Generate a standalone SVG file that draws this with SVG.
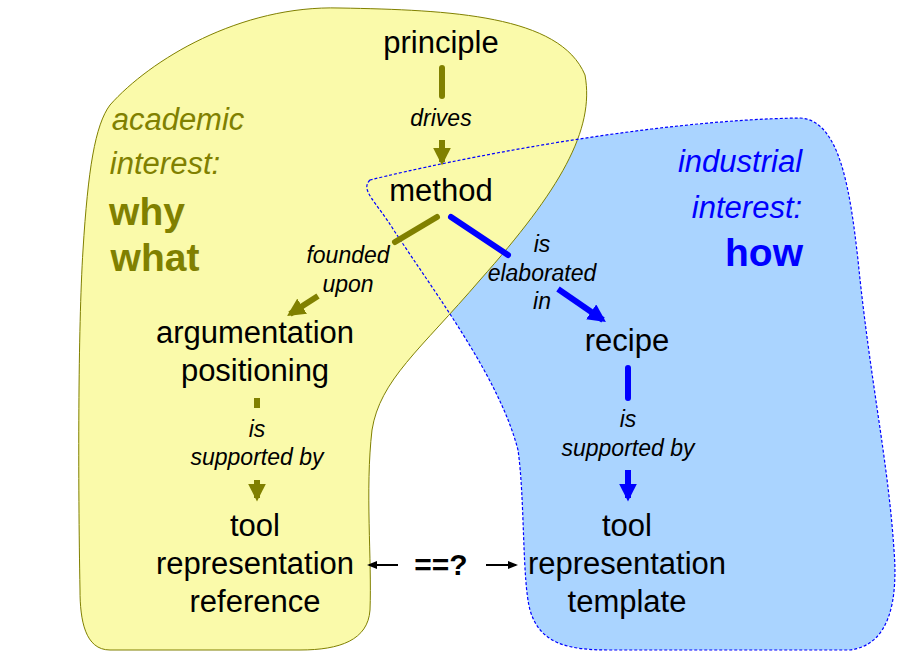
<svg xmlns="http://www.w3.org/2000/svg" width="920" height="660" viewBox="0 0 920 660">
<defs>
<style>
text{font-family:"Liberation Sans",Arial,sans-serif;text-anchor:middle}
.n{font-size:31px;fill:#000}
.l{font-size:23px;font-style:italic;fill:#000}
.o{stroke:#808000;stroke-width:6;fill:none}
.b{stroke:#0000ff;stroke-width:6;fill:none}
</style>
<marker id="mo" viewBox="0 0 10 10" refX="8" refY="5" markerWidth="3" markerHeight="3" orient="auto"><path d="M0,0L10,5L0,10z" fill="#808000"/></marker>
<marker id="mb" viewBox="0 0 10 10" refX="8" refY="5" markerWidth="3" markerHeight="3" orient="auto"><path d="M0,0L10,5L0,10z" fill="#0000ff"/></marker>
<marker id="mk" viewBox="0 0 10 10" refX="8" refY="5" markerWidth="5" markerHeight="5" orient="auto"><path d="M0,1L10,5L0,9z" fill="#000"/></marker>
</defs>
<g id="areas">
<path id="blue-fill" d="M370,180 C360,190 375,200 395,232 C440,300 500,380 518,450 C525,500 522,580 530,610 C540,645 570,650 610,650 L850,650 C890,645 898,600 894,550 C888,460 870,380 858,260 C850,190 840,120 800,118 C650,120 450,160 370,180 Z" fill="#aad4ff"/>
<path id="yellow" d="M110,105 C150,60 240,5 340,8 C450,10 560,15 585,75 C595,130 560,190 480,280 C420,350 380,380 372,430 C365,490 372,560 370,610 C368,640 340,650 300,650 L110,650 C85,650 80,620 80,590 C78,480 78,330 83,250 C88,170 95,125 110,105 Z" fill="#fafaaa" stroke="#808000" stroke-width="1"/>
<path id="blue-outline" d="M370,180 C360,190 375,200 395,232 C440,300 500,380 518,450 C525,500 522,580 530,610 C540,645 570,650 610,650 L850,650 C890,645 898,600 894,550 C888,460 870,380 858,260 C850,190 840,120 800,118 C650,120 450,160 370,180 Z" fill="none" stroke="#0000ff" stroke-width="1.2" stroke-dasharray="3,2"/>
</g>
<g id="labels-areas">
<text x="178" y="130" font-size="31" font-style="italic" fill="#808000">academic</text>
<text x="165" y="174" font-size="31" font-style="italic" fill="#808000">interest:</text>
<text x="147" y="225" font-size="39" font-weight="bold" fill="#808000">why</text>
<text x="155" y="271" font-size="39" font-weight="bold" fill="#808000">what</text>
<text x="740" y="172" font-size="31" font-style="italic" fill="#0000ff">industrial</text>
<text x="747" y="218" font-size="31" font-style="italic" fill="#0000ff">interest:</text>
<text x="764" y="266" font-size="39" font-weight="bold" fill="#0000ff">how</text>
</g>
<g id="principle"><text class="n" x="441" y="53">principle</text></g>
<g id="method"><text class="n" x="441" y="201">method</text></g>
<g id="argumentation"><text class="n" x="255" y="343">argumentation</text><text class="n" x="255" y="381">positioning</text></g>
<g id="recipe"><text class="n" x="627" y="351">recipe</text></g>
<g id="tool-left"><text class="n" x="255" y="536">tool</text><text class="n" x="255" y="574">representation</text><text class="n" x="255" y="612">reference</text></g>
<g id="tool-right"><text class="n" x="627" y="536">tool</text><text class="n" x="627" y="574">representation</text><text class="n" x="627" y="612">template</text></g>
<g id="connectors">
<line class="o" x1="442" y1="68" x2="442" y2="96" stroke-linecap="round"/>
<line class="o" x1="442" y1="140" x2="442" y2="162" marker-end="url(#mo)"/>
<line class="o" x1="437" y1="217" x2="395" y2="242" stroke-linecap="round"/>
<line class="o" x1="318" y1="296" x2="290" y2="314" marker-end="url(#mo)"/>
<line class="b" x1="451" y1="217" x2="508" y2="255" stroke-linecap="round"/>
<line class="b" x1="558" y1="289" x2="603" y2="320" marker-end="url(#mb)"/>
<line class="o" x1="257" y1="398" x2="257" y2="408"/>
<line class="o" x1="257" y1="480" x2="257" y2="498" marker-end="url(#mo)"/>
<line class="b" x1="628" y1="368" x2="628" y2="398" stroke-linecap="round"/>
<line class="b" x1="628" y1="470" x2="628" y2="498" marker-end="url(#mb)"/>
<line x1="398" y1="565" x2="369" y2="565" stroke="#000" stroke-width="2" marker-end="url(#mk)"/>
<line x1="486" y1="565" x2="516" y2="565" stroke="#000" stroke-width="2" marker-end="url(#mk)"/>
<text x="441" y="126" class="l">drives</text>
<text x="348" y="263" class="l">founded</text>
<text x="348" y="292" class="l">upon</text>
<text x="542" y="252" class="l">is</text>
<text x="542" y="281" class="l">elaborated</text>
<text x="542" y="309" class="l">in</text>
<text x="257" y="437" class="l">is</text>
<text x="257" y="465" class="l">supported by</text>
<text x="628" y="427" class="l">is</text>
<text x="628" y="456" class="l">supported by</text>
<text x="441" y="575" font-size="30" font-weight="bold">==?</text>
</g>
</svg>
